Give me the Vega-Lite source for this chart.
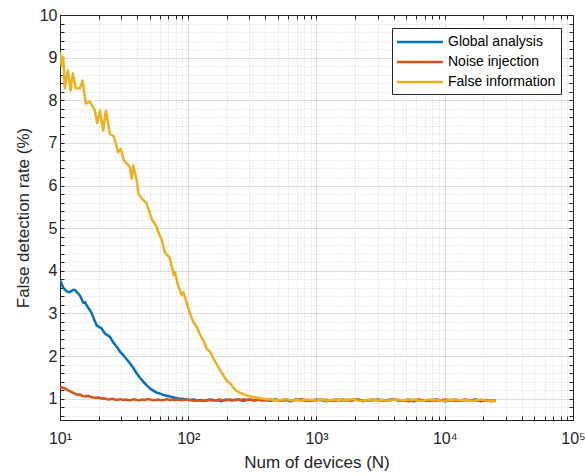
{
  "$schema": "https://vega.github.io/schema/vega-lite/v6.json",
  "width": 513,
  "height": 405,
  "autosize": {"type": "none"},
  "padding": {"left": 60, "top": 15, "right": 12, "bottom": 56},
  "background": "white",
  "config": {
    "font": "Liberation Sans",
    "view": {"stroke": "#262626", "strokeWidth": 1},
    "axis": {"domainColor": "#262626", "tickColor": "#262626", "labelColor": "#262626", "titleColor": "#262626", "titleFontWeight": "normal", "labelFont": "Liberation Sans", "titleFont": "Liberation Sans"}
  },
  "data": {"values": [
    {"series":"Global analysis","n":10,"v":3.78},{"series":"Global analysis","n":10.3,"v":3.7},{"series":"Global analysis","n":10.6,"v":3.6},{"series":"Global analysis","n":11,"v":3.55},{"series":"Global analysis","n":11.5,"v":3.5},{"series":"Global analysis","n":12,"v":3.5},{"series":"Global analysis","n":12.6,"v":3.55},{"series":"Global analysis","n":13.1,"v":3.55},{"series":"Global analysis","n":13.7,"v":3.48},{"series":"Global analysis","n":14.3,"v":3.42},{"series":"Global analysis","n":15.2,"v":3.25},{"series":"Global analysis","n":15.7,"v":3.26},{"series":"Global analysis","n":16.1,"v":3.19},{"series":"Global analysis","n":16.9,"v":3.1},{"series":"Global analysis","n":17.7,"v":3.0},{"series":"Global analysis","n":18.5,"v":2.85},{"series":"Global analysis","n":19.3,"v":2.72},{"series":"Global analysis","n":20.2,"v":2.68},{"series":"Global analysis","n":21.1,"v":2.65},{"series":"Global analysis","n":22.4,"v":2.53},{"series":"Global analysis","n":24.5,"v":2.45},{"series":"Global analysis","n":26,"v":2.32},{"series":"Global analysis","n":27.7,"v":2.22},{"series":"Global analysis","n":29.4,"v":2.1},{"series":"Global analysis","n":31.2,"v":2.02},{"series":"Global analysis","n":33,"v":1.93},{"series":"Global analysis","n":35.1,"v":1.83},{"series":"Global analysis","n":37.3,"v":1.72},{"series":"Global analysis","n":39.7,"v":1.59},{"series":"Global analysis","n":42,"v":1.49},{"series":"Global analysis","n":44.6,"v":1.4},{"series":"Global analysis","n":47.3,"v":1.32},{"series":"Global analysis","n":50.3,"v":1.24},{"series":"Global analysis","n":53.4,"v":1.19},{"series":"Global analysis","n":56.7,"v":1.14},{"series":"Global analysis","n":60.2,"v":1.12},{"series":"Global analysis","n":63.9,"v":1.09},{"series":"Global analysis","n":68,"v":1.07},{"series":"Global analysis","n":72.1,"v":1.05},{"series":"Global analysis","n":76.6,"v":1.03},{"series":"Global analysis","n":81.3,"v":1.01},{"series":"Global analysis","n":86.2,"v":1.0},{"series":"Global analysis","n":91.5,"v":0.99},{"series":"Global analysis","n":97,"v":0.98},{"series":"Global analysis","n":103,"v":0.97},{"series":"Global analysis","n":110,"v":0.98},{"series":"Global analysis","n":117,"v":0.96},{"series":"Global analysis","n":124,"v":0.97},{"series":"Global analysis","n":132,"v":0.95},{"series":"Global analysis","n":141,"v":0.97},{"series":"Global analysis","n":150,"v":0.98},{"series":"Global analysis","n":160,"v":0.96},{"series":"Global analysis","n":171,"v":0.97},{"series":"Global analysis","n":182,"v":0.94},{"series":"Global analysis","n":194,"v":0.98},{"series":"Global analysis","n":207,"v":0.97},{"series":"Global analysis","n":221,"v":0.96},{"series":"Global analysis","n":236,"v":0.98},{"series":"Global analysis","n":251,"v":0.97},{"series":"Global analysis","n":268,"v":0.95},{"series":"Global analysis","n":286,"v":0.97},{"series":"Global analysis","n":305,"v":0.98},{"series":"Global analysis","n":325,"v":0.96},{"series":"Global analysis","n":347,"v":0.97},{"series":"Global analysis","n":370,"v":0.98},
    {"series":"Global analysis","n":400,"v":0.97},{"series":"Global analysis","n":440,"v":0.95},{"series":"Global analysis","n":480,"v":0.98},{"series":"Global analysis","n":525,"v":0.96},{"series":"Global analysis","n":575,"v":0.97},{"series":"Global analysis","n":630,"v":0.94},{"series":"Global analysis","n":690,"v":0.98},{"series":"Global analysis","n":760,"v":0.96},{"series":"Global analysis","n":830,"v":0.97},{"series":"Global analysis","n":910,"v":0.95},{"series":"Global analysis","n":1000,"v":0.98},{"series":"Global analysis","n":1100,"v":0.96},{"series":"Global analysis","n":1200,"v":0.94},{"series":"Global analysis","n":1320,"v":0.97},{"series":"Global analysis","n":1450,"v":0.98},{"series":"Global analysis","n":1580,"v":0.95},{"series":"Global analysis","n":1740,"v":0.97},{"series":"Global analysis","n":1900,"v":0.96},{"series":"Global analysis","n":2090,"v":0.98},{"series":"Global analysis","n":2290,"v":0.94},{"series":"Global analysis","n":2510,"v":0.97},{"series":"Global analysis","n":2750,"v":0.96},{"series":"Global analysis","n":3020,"v":0.98},{"series":"Global analysis","n":3310,"v":0.95},{"series":"Global analysis","n":3630,"v":0.97},{"series":"Global analysis","n":3980,"v":0.99},{"series":"Global analysis","n":4370,"v":0.95},{"series":"Global analysis","n":4790,"v":0.96},{"series":"Global analysis","n":5250,"v":0.98},{"series":"Global analysis","n":5750,"v":0.94},{"series":"Global analysis","n":6310,"v":0.97},{"series":"Global analysis","n":6920,"v":0.96},{"series":"Global analysis","n":7590,"v":0.95},{"series":"Global analysis","n":8320,"v":0.98},{"series":"Global analysis","n":9120,"v":0.97},{"series":"Global analysis","n":10000,"v":0.94},{"series":"Global analysis","n":10960,"v":0.96},{"series":"Global analysis","n":12020,"v":0.98},{"series":"Global analysis","n":13180,"v":0.95},{"series":"Global analysis","n":14450,"v":0.97},{"series":"Global analysis","n":15850,"v":0.96},{"series":"Global analysis","n":17380,"v":0.98},{"series":"Global analysis","n":19050,"v":0.94},{"series":"Global analysis","n":20890,"v":0.97},{"series":"Global analysis","n":22910,"v":0.95},{"series":"Global analysis","n":25000,"v":0.96},
    {"series":"Noise injection","n":10,"v":1.28},{"series":"Noise injection","n":10.3,"v":1.27},{"series":"Noise injection","n":10.6,"v":1.25},{"series":"Noise injection","n":11,"v":1.24},{"series":"Noise injection","n":11.5,"v":1.2},{"series":"Noise injection","n":12,"v":1.17},{"series":"Noise injection","n":12.6,"v":1.14},{"series":"Noise injection","n":13.1,"v":1.12},{"series":"Noise injection","n":13.7,"v":1.09},{"series":"Noise injection","n":14.3,"v":1.1},{"series":"Noise injection","n":15,"v":1.06},{"series":"Noise injection","n":15.7,"v":1.05},{"series":"Noise injection","n":16.5,"v":1.07},{"series":"Noise injection","n":17.3,"v":1.04},{"series":"Noise injection","n":18.2,"v":1.03},{"series":"Noise injection","n":19.1,"v":1.02},{"series":"Noise injection","n":20,"v":1.03},{"series":"Noise injection","n":21,"v":1.0},{"series":"Noise injection","n":22,"v":1.01},{"series":"Noise injection","n":23.1,"v":0.99},{"series":"Noise injection","n":24.3,"v":0.98},{"series":"Noise injection","n":25.5,"v":1.0},{"series":"Noise injection","n":26.8,"v":0.98},{"series":"Noise injection","n":28.1,"v":0.97},{"series":"Noise injection","n":29.5,"v":0.99},{"series":"Noise injection","n":31,"v":0.97},{"series":"Noise injection","n":32.5,"v":0.98},{"series":"Noise injection","n":34.2,"v":0.96},{"series":"Noise injection","n":35.9,"v":0.97},{"series":"Noise injection","n":37.7,"v":0.99},{"series":"Noise injection","n":39.6,"v":0.97},{"series":"Noise injection","n":41.6,"v":0.96},{"series":"Noise injection","n":43.7,"v":0.98},{"series":"Noise injection","n":45.9,"v":0.97},{"series":"Noise injection","n":48.2,"v":0.99},{"series":"Noise injection","n":50.6,"v":0.98},{"series":"Noise injection","n":53.2,"v":0.96},{"series":"Noise injection","n":55.9,"v":0.97},{"series":"Noise injection","n":58.7,"v":0.98},{"series":"Noise injection","n":61.7,"v":0.96},{"series":"Noise injection","n":64.8,"v":0.97},{"series":"Noise injection","n":68,"v":0.99},{"series":"Noise injection","n":71.5,"v":0.97},{"series":"Noise injection","n":75,"v":0.98},{"series":"Noise injection","n":79,"v":0.97},{"series":"Noise injection","n":83,"v":0.98},{"series":"Noise injection","n":87,"v":0.96},{"series":"Noise injection","n":91.5,"v":0.97},{"series":"Noise injection","n":96,"v":0.98},{"series":"Noise injection","n":101,"v":0.97},{"series":"Noise injection","n":106,"v":0.96},{"series":"Noise injection","n":111,"v":0.95},{"series":"Noise injection","n":117,"v":0.96},{"series":"Noise injection","n":123,"v":0.95},{"series":"Noise injection","n":129,"v":0.96},{"series":"Noise injection","n":136,"v":0.95},{"series":"Noise injection","n":143,"v":0.97},{"series":"Noise injection","n":150,"v":0.96},{"series":"Noise injection","n":158,"v":0.97},{"series":"Noise injection","n":166,"v":0.96},{"series":"Noise injection","n":174,"v":0.98},{"series":"Noise injection","n":183,"v":0.97},{"series":"Noise injection","n":192,"v":0.96},{"series":"Noise injection","n":202,"v":0.97},{"series":"Noise injection","n":212,"v":0.98},{"series":"Noise injection","n":223,"v":0.97},{"series":"Noise injection","n":234,"v":0.96},{"series":"Noise injection","n":246,"v":0.98},{"series":"Noise injection","n":259,"v":0.97},{"series":"Noise injection","n":272,"v":0.99},{"series":"Noise injection","n":286,"v":0.97},{"series":"Noise injection","n":300,"v":0.98},{"series":"Noise injection","n":316,"v":0.96},{"series":"Noise injection","n":332,"v":0.97},{"series":"Noise injection","n":349,"v":0.98},{"series":"Noise injection","n":367,"v":0.96},
    {"series":"Noise injection","n":400,"v":0.96},{"series":"Noise injection","n":440,"v":0.98},{"series":"Noise injection","n":480,"v":0.97},{"series":"Noise injection","n":525,"v":0.95},{"series":"Noise injection","n":575,"v":0.98},{"series":"Noise injection","n":630,"v":0.96},{"series":"Noise injection","n":690,"v":0.97},{"series":"Noise injection","n":760,"v":0.99},{"series":"Noise injection","n":830,"v":0.95},{"series":"Noise injection","n":910,"v":0.97},{"series":"Noise injection","n":1000,"v":0.96},{"series":"Noise injection","n":1100,"v":0.98},{"series":"Noise injection","n":1200,"v":0.97},{"series":"Noise injection","n":1320,"v":0.95},{"series":"Noise injection","n":1450,"v":0.96},{"series":"Noise injection","n":1580,"v":0.98},{"series":"Noise injection","n":1740,"v":0.97},{"series":"Noise injection","n":1900,"v":0.96},{"series":"Noise injection","n":2090,"v":0.99},{"series":"Noise injection","n":2290,"v":0.95},{"series":"Noise injection","n":2510,"v":0.96},{"series":"Noise injection","n":2750,"v":0.98},{"series":"Noise injection","n":3020,"v":0.96},{"series":"Noise injection","n":3310,"v":0.97},{"series":"Noise injection","n":3630,"v":0.95},{"series":"Noise injection","n":3980,"v":0.98},{"series":"Noise injection","n":4370,"v":0.97},{"series":"Noise injection","n":4790,"v":0.96},{"series":"Noise injection","n":5250,"v":0.94},{"series":"Noise injection","n":5750,"v":0.97},{"series":"Noise injection","n":6310,"v":0.98},{"series":"Noise injection","n":6920,"v":0.96},{"series":"Noise injection","n":7590,"v":0.97},{"series":"Noise injection","n":8320,"v":0.95},{"series":"Noise injection","n":9120,"v":0.96},{"series":"Noise injection","n":10000,"v":0.98},{"series":"Noise injection","n":10960,"v":0.97},{"series":"Noise injection","n":12020,"v":0.95},{"series":"Noise injection","n":13180,"v":0.96},{"series":"Noise injection","n":14450,"v":0.98},{"series":"Noise injection","n":15850,"v":0.96},{"series":"Noise injection","n":17380,"v":0.97},{"series":"Noise injection","n":19050,"v":0.95},{"series":"Noise injection","n":20890,"v":0.96},{"series":"Noise injection","n":22910,"v":0.94},{"series":"Noise injection","n":25000,"v":0.95},
    {"series":"False information","n":10,"v":9.13},{"series":"False information","n":10.3,"v":8.81},{"series":"False information","n":10.6,"v":9.01},{"series":"False information","n":10.9,"v":8.28},{"series":"False information","n":11.5,"v":8.7},{"series":"False information","n":12.1,"v":8.23},{"series":"False information","n":12.6,"v":8.63},{"series":"False information","n":13.3,"v":8.28},{"series":"False information","n":14.3,"v":8.28},{"series":"False information","n":15,"v":8.46},{"series":"False information","n":15.9,"v":7.92},{"series":"False information","n":17.1,"v":7.97},{"series":"False information","n":18.7,"v":7.76},{"series":"False information","n":19.5,"v":7.46},{"series":"False information","n":20.5,"v":7.76},{"series":"False information","n":21.7,"v":7.29},{"series":"False information","n":22.8,"v":7.76},{"series":"False information","n":24.5,"v":7.21},{"series":"False information","n":26.3,"v":7.15},{"series":"False information","n":28.4,"v":6.78},{"series":"False information","n":29.7,"v":6.86},{"series":"False information","n":31.5,"v":6.59},{"series":"False information","n":33.1,"v":6.52},{"series":"False information","n":35.1,"v":6.43},{"series":"False information","n":36.2,"v":6.16},{"series":"False information","n":37.3,"v":6.47},{"series":"False information","n":39.6,"v":6.12},{"series":"False information","n":40.8,"v":5.81},{"series":"False information","n":43.4,"v":5.7},{"series":"False information","n":47.4,"v":5.58},{"series":"False information","n":48.8,"v":5.46},{"series":"False information","n":51.9,"v":5.22},{"series":"False information","n":56.7,"v":5.03},{"series":"False information","n":58.4,"v":4.91},{"series":"False information","n":62.1,"v":4.72},{"series":"False information","n":65.9,"v":4.42},{"series":"False information","n":71.2,"v":4.32},{"series":"False information","n":75.7,"v":4.01},{"series":"False information","n":77,"v":3.9},{"series":"False information","n":78.9,"v":3.97},{"series":"False information","n":82.2,"v":3.72},{"series":"False information","n":86.2,"v":3.54},{"series":"False information","n":88.6,"v":3.43},{"series":"False information","n":91.5,"v":3.5},{"series":"False information","n":97.3,"v":3.25},{"series":"False information","n":103.2,"v":3.0},{"series":"False information","n":109.4,"v":2.8},{"series":"False information","n":116.4,"v":2.68},{"series":"False information","n":123.5,"v":2.5},{"series":"False information","n":131,"v":2.37},{"series":"False information","n":139.3,"v":2.17},{"series":"False information","n":147.7,"v":2.1},{"series":"False information","n":156.8,"v":1.95},{"series":"False information","n":176.9,"v":1.67},{"series":"False information","n":187.6,"v":1.55},{"series":"False information","n":199.6,"v":1.42},{"series":"False information","n":211.7,"v":1.36},{"series":"False information","n":224.6,"v":1.26},{"series":"False information","n":238.8,"v":1.18},{"series":"False information","n":252,"v":1.14},{"series":"False information","n":277,"v":1.09},{"series":"False information","n":300,"v":1.06},{"series":"False information","n":321.4,"v":1.04},{"series":"False information","n":362,"v":1.01},{"series":"False information","n":400,"v":0.99},
    {"series":"False information","n":440,"v":0.98},{"series":"False information","n":480,"v":0.96},{"series":"False information","n":525,"v":0.97},{"series":"False information","n":575,"v":0.99},{"series":"False information","n":630,"v":0.96},{"series":"False information","n":690,"v":0.97},{"series":"False information","n":760,"v":0.95},{"series":"False information","n":830,"v":0.98},{"series":"False information","n":910,"v":0.97},{"series":"False information","n":1000,"v":0.96},{"series":"False information","n":1100,"v":0.98},{"series":"False information","n":1200,"v":0.95},{"series":"False information","n":1320,"v":0.97},{"series":"False information","n":1450,"v":0.98},{"series":"False information","n":1580,"v":0.96},{"series":"False information","n":1740,"v":0.97},{"series":"False information","n":1900,"v":0.99},{"series":"False information","n":2090,"v":0.96},{"series":"False information","n":2290,"v":0.95},{"series":"False information","n":2510,"v":0.97},{"series":"False information","n":2750,"v":0.98},{"series":"False information","n":3020,"v":0.96},{"series":"False information","n":3310,"v":0.97},{"series":"False information","n":3630,"v":0.95},{"series":"False information","n":3980,"v":0.98},{"series":"False information","n":4370,"v":0.97},{"series":"False information","n":4790,"v":0.96},{"series":"False information","n":5250,"v":0.98},{"series":"False information","n":5750,"v":0.97},{"series":"False information","n":6310,"v":0.95},{"series":"False information","n":6920,"v":0.96},{"series":"False information","n":7590,"v":0.98},{"series":"False information","n":8320,"v":0.97},{"series":"False information","n":9120,"v":0.96},{"series":"False information","n":10000,"v":0.95},{"series":"False information","n":10960,"v":0.97},{"series":"False information","n":12020,"v":0.98},{"series":"False information","n":13180,"v":0.96},{"series":"False information","n":14450,"v":0.97},{"series":"False information","n":15850,"v":0.95},{"series":"False information","n":17380,"v":0.96},{"series":"False information","n":19050,"v":0.98},{"series":"False information","n":20890,"v":0.96},{"series":"False information","n":22910,"v":0.95},{"series":"False information","n":25000,"v":0.96}
  ]},
  "resolve": {"axis": {"x": "independent", "y": "independent"}},
  "layer": [
    {
      "mark": {"type": "line", "strokeWidth": 2.5, "strokeJoin": "round", "clip": true},
      "encoding": {
        "x": {"field": "n", "type": "quantitative", "sort": null,
          "scale": {"type": "log", "domain": [10, 100000], "nice": false},
          "axis": {
            "title": "Num of devices (N)", "titleFontSize": 17, "titlePadding": 8,
            "values": [10,20,30,40,50,60,70,80,90,100,200,300,400,500,600,700,800,900,1000,2000,3000,4000,5000,6000,7000,8000,9000,10000,20000,30000,40000,50000,60000,70000,80000,90000,100000],
            "labelExpr": "datum.value==10?'10¹':datum.value==100?'10²':datum.value==1000?'10³':datum.value==10000?'10⁴':datum.value==100000?'10⁵':''",
            "labelFontSize": 16, "labelOverlap": false, "labelFlush": false, "labelBound": false, "labelPadding": 14,
            "tickSize": -4, "tickWidth": 1,
            "grid": true, "gridColor": "#262626",
            "gridOpacity": {"condition": {"test": "indexof([10,100,1000,10000,100000], datum.value) >= 0", "value": 0.15}, "value": 0.2},
            "gridDash": {"condition": {"test": "indexof([10,100,1000,10000,100000], datum.value) >= 0", "value": []}, "value": [1, 2]}
          }
        },
        "y": {"field": "v", "type": "quantitative",
          "scale": {"domain": [0.5, 10], "nice": false, "zero": false},
          "axis": {
            "title": "False detection rate (%)", "titleFontSize": 17, "titlePadding": 7,
            "values": [0.6,0.8,1,1.2,1.4,1.6,1.8,2,2.2,2.4,2.6,2.8,3,3.2,3.4,3.6,3.8,4,4.2,4.4,4.6,4.8,5,5.2,5.4,5.6,5.8,6,6.2,6.4,6.6,6.8,7,7.2,7.4,7.6,7.8,8,8.2,8.4,8.6,8.8,9,9.2,9.4,9.6,9.8,10],
            "labelExpr": "datum.value % 1 == 0 ? format(datum.value, 'd') : ''",
            "labelFontSize": 16, "labelOverlap": false, "labelPadding": 7, "labelBound": false, "labelFlush": false,
            "tickSize": -4, "tickWidth": 1,
            "grid": true, "gridColor": "#262626",
            "gridOpacity": {"condition": {"test": "datum.value % 1 == 0", "value": 0.15}, "value": 0.2},
            "gridDash": {"condition": {"test": "datum.value % 1 == 0", "value": []}, "value": [1, 2]}
          }
        },
        "color": {"field": "series", "type": "nominal",
          "scale": {"domain": ["Global analysis", "Noise injection", "False information"], "range": ["#0072BD", "#D95319", "#EDB120"]},
          "legend": {
            "title": null, "orient": "none", "legendX": 332, "legendY": 13,
            "direction": "vertical",
            "fillColor": "white", "strokeColor": "#262626", "padding": 5, "cornerRadius": 0,
            "labelFontSize": 14, "labelColor": "#000000", "labelFont": "Liberation Sans",
            "symbolType": "M-3,0H3", "symbolSize": 235, "symbolStrokeWidth": 2.5, "symbolOffset": 14,
            "labelOffset": 19, "rowPadding": 4
          }
        }
      }
    },
    {
      "mark": {"type": "point", "opacity": 0, "size": 1},
      "encoding": {
        "x": {"field": "n", "type": "quantitative",
          "axis": {
            "orient": "top", "title": null, "labels": false, "grid": false,
            "values": [10,20,30,40,50,60,70,80,90,100,200,300,400,500,600,700,800,900,1000,2000,3000,4000,5000,6000,7000,8000,9000,10000,20000,30000,40000,50000,60000,70000,80000,90000,100000],
            "tickSize": -4, "tickWidth": 1
          }
        },
        "y": {"field": "v", "type": "quantitative",
          "axis": {
            "orient": "right", "title": null, "labels": false, "grid": false,
            "values": [0.6,0.8,1,1.2,1.4,1.6,1.8,2,2.2,2.4,2.6,2.8,3,3.2,3.4,3.6,3.8,4,4.2,4.4,4.6,4.8,5,5.2,5.4,5.6,5.8,6,6.2,6.4,6.6,6.8,7,7.2,7.4,7.6,7.8,8,8.2,8.4,8.6,8.8,9,9.2,9.4,9.6,9.8,10],
            "tickSize": -4, "tickWidth": 1
          }
        }
      }
    }
  ]
}
